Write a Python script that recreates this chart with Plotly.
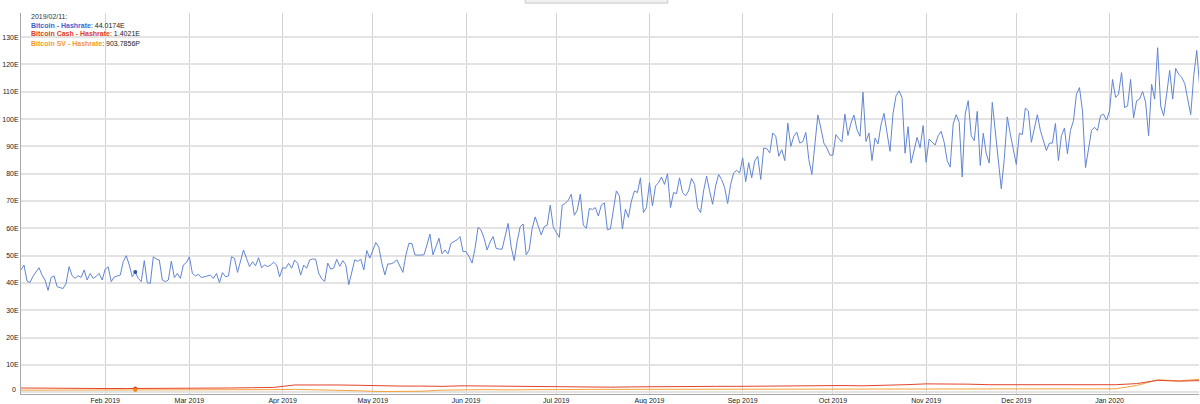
import pandas as pd
import plotly.graph_objects as go

# ---------------- data (hashrate in EH/s, "E") ----------------
btc_start = "2019-01-04"
btc_2019_01 = [44.8, 46.6, 40.7, 40.2, 42.5, 44.1, 45.6, 42.9, 41.1, 37.3,
               42.0, 42.6, 38.7, 38.3, 38.0, 39.9, 46.0, 42.7, 41.7, 42.7,
               42.0, 44.8, 41.1, 43.5, 41.7, 42.5, 43.5, 41.1]
btc_2019_02 = [45.1, 45.9, 40.5, 42.2, 42.5, 42.9, 47.8, 50.0, 46.6, 42.3,
               44.0, 41.7, 40.5, 48.2, 40.1, 39.9, 49.6, 48.8, 48.4, 41.1,
               40.5, 41.1, 48.0, 42.0, 43.5, 41.7, 46.6, 47.5]
btc_2019_03 = [49.6, 43.5, 42.6, 43.2, 42.0, 42.3, 42.5, 42.9, 41.7, 43.5,
               40.1, 43.8, 42.3, 42.6, 49.6, 49.0, 43.9, 48.0, 52.1, 49.0,
               46.0, 47.8, 46.3, 49.3, 45.6, 46.6, 46.0, 46.6, 47.6, 46.6,
               42.3]
btc_2019_04 = [45.6, 45.4, 47.2, 45.4, 48.4, 47.2, 42.9, 46.6, 45.4, 48.4,
               48.8, 48.7, 43.6, 41.5, 40.6, 47.3, 45.1, 45.5, 48.7, 46.1,
               48.2, 46.7, 39.4, 43.6, 48.5, 47.9, 48.7, 44.8, 51.9, 49.1]
btc_2019_05 = [52.1, 54.8, 53.1, 47.3, 43.0, 47.0, 47.0, 47.5, 48.5, 46.3,
               43.9, 50.3, 54.5, 54.5, 50.3, 50.2, 50.2, 50.3, 53.9, 57.9,
               50.3, 53.1, 56.4, 50.7, 52.1, 50.7, 54.5, 55.2, 55.8, 57.0,
               51.5]
btc_2019_06 = [51.5, 49.7, 47.3, 52.7, 60.4, 59.4, 56.4, 52.1, 55.0, 57.0,
               52.7, 52.4, 52.4, 57.6, 61.8, 53.3, 48.2, 55.2, 60.6, 61.6,
               50.3, 52.1, 60.0, 64.2, 60.6, 57.6, 60.6, 61.2, 68.5, 60.6]
btc_2019_07 = [58.5, 56.7, 68.5, 69.1, 70.3, 72.5, 64.8, 66.7, 72.5, 61.2,
               60.0, 67.3, 66.9, 67.6, 64.5, 68.5, 69.3, 59.5, 59.8, 67.0,
               73.7, 71.9, 59.8, 67.0, 64.0, 70.0, 73.7, 73.1, 78.5, 65.8,
               67.6]
btc_2019_08 = [76.7, 68.2, 75.5, 76.7, 78.8, 76.1, 80.0, 67.6, 73.1, 72.7,
               78.5, 73.1, 71.9, 73.7, 78.3, 76.1, 67.6, 65.8, 73.7, 79.1,
               73.7, 68.8, 75.5, 79.7, 77.9, 74.9, 69.1, 76.1, 80.3, 81.2,
               80.3]
btc_2019_09 = [85.8, 77.1, 84.0, 78.5, 84.6, 86.4, 77.9, 89.4, 89.2, 87.6,
               94.9, 93.7, 86.4, 88.8, 84.8, 98.5, 90.0, 93.7, 95.2, 91.2,
               91.8, 95.1, 85.2, 79.7, 89.4, 101.5, 96.7, 91.2, 89.4, 86.8]
btc_2019_10 = [86.8, 94.3, 92.8, 91.6, 101.8, 94.0, 98.5, 101.5, 96.1, 93.7,
               109.8, 91.8, 94.9, 84.8, 93.0, 90.9, 97.9, 102.1, 94.9, 88.2,
               102.1, 108.5, 110.3, 107.8, 87.5, 97.2, 83.9, 89.1, 93.3, 89.5,
               97.6]
btc_2019_11 = [84.2, 92.7, 91.5, 90.5, 93.9, 95.5, 91.5, 84.8, 82.4, 98.2,
               101.6, 98.8, 78.8, 101.8, 106.7, 93.9, 92.1, 102.8, 83.0, 94.8,
               87.3, 83.9, 106.1, 95.8, 86.1, 74.5, 85.5, 100.8, 94.5, 89.1]
btc_2019_12 = [83.4, 94.8, 94.3, 104.0, 103.0, 91.5, 97.0, 101.6, 95.8, 92.1,
               88.5, 91.2, 91.2, 98.4, 84.8, 93.9, 96.7, 87.3, 95.8, 99.4,
               109.1, 111.5, 103.0, 82.2, 88.5, 95.8, 97.0, 95.8, 101.2, 101.8,
               99.6]
btc_2020_01 = [103.0, 114.5, 107.9, 109.1, 117.0, 104.2, 104.8, 114.5, 100.4, 106.7,
               107.3, 110.1, 106.1, 93.9, 112.7, 107.3, 126.1, 104.8, 101.2, 109.1,
               117.8, 107.3, 118.5, 116.4, 115.2, 113.0, 106.7, 101.6, 115.8, 125.1,
               111.5]

# weekly readings for the two small chains
alt_start = "2019-01-04"
bch_weekly = [1.6, 1.5, 1.5, 1.4, 1.4, 1.4, 1.4, 1.5, 1.5, 1.5,
              1.6, 1.7, 1.8, 2.7, 2.8, 2.7, 2.6, 2.4, 2.3, 2.3,
              2.2, 2.4, 2.3, 2.2, 2.1, 2.1, 2.0, 1.9, 1.9, 2.0,
              2.1, 2.0, 2.1, 2.2, 2.2, 2.3, 2.4, 2.4, 2.4, 2.5,
              2.4, 2.5, 2.8, 3.1, 3.1, 3.0, 2.8, 2.8, 2.7, 2.7,
              2.6, 2.7, 2.8, 3.2, 4.4, 4.1, 4.3]
bsv_weekly = [0.8, 0.8, 0.8, 0.9, 0.9, 0.9, 0.9, 0.8, 0.8, 0.8,
              0.8, 0.9, 1.0, 1.1, 1.0, 0.9, 0.6, 0.3, 0.3, 0.4,
              0.8, 1.0, 1.0, 0.9, 1.0, 1.0, 1.1, 1.1, 1.1, 1.1,
              1.2, 1.2, 1.2, 1.2, 1.2, 1.2, 1.2, 1.3, 1.3, 1.2,
              1.2, 1.3, 1.2, 1.2, 1.2, 1.2, 1.1, 1.1, 1.1, 1.2,
              1.2, 1.2, 1.3, 2.5, 4.6, 4.2, 4.8]

# highlighted point (legend readout)
hover_date = "2019-02-11"
hover_label = "2019/02/11:"
hover_btc = 44.0174
hover_bch = 1.4021
hover_bsv = 0.9037856
hover_text = ["44.0174E", "1.4021E", "903.7856P"]

series_names = ["Bitcoin - Hashrate", "Bitcoin Cash - Hashrate", "Bitcoin SV - Hashrate"]
series_colors = ["#6285d2", "#e2432c", "#f7a23a"]
label_colors = ["#3b66d0", "#e03a26", "#f59a2a"]

y_tickvals = [10, 20, 30, 40, 50, 60, 70, 80, 90, 100, 110, 120, 130]
y_ticktext = ["10E", "20E", "30E", "40E", "50E", "60E", "70E", "80E",
              "90E", "100E", "110E", "120E", "130E"]
y_bottom_label = "0"

# ---------------- build ----------------
btc = (btc_2019_01 + btc_2019_02 + btc_2019_03 + btc_2019_04 + btc_2019_05 +
       btc_2019_06 + btc_2019_07 + btc_2019_08 + btc_2019_09 + btc_2019_10 +
       btc_2019_11 + btc_2019_12 + btc_2020_01)
btc_dates = pd.date_range(btc_start, periods=len(btc), freq="D")
alt_dates = pd.date_range(alt_start, periods=len(bch_weekly), freq="7D")

fig = go.Figure()
fig.add_trace(go.Scatter(x=alt_dates, y=bsv_weekly, mode="lines",
                         line=dict(color=series_colors[2], width=1), name=series_names[2]))
fig.add_trace(go.Scatter(x=alt_dates, y=bch_weekly, mode="lines",
                         line=dict(color=series_colors[1], width=1), name=series_names[1]))
fig.add_trace(go.Scatter(x=btc_dates, y=btc, mode="lines",
                         line=dict(color=series_colors[0], width=1), name=series_names[0]))
fig.add_trace(go.Scatter(x=[hover_date] * 3, y=[hover_bch, hover_bsv, hover_btc], mode="markers",
                         marker=dict(size=4, color=["#d8412a", "#f08a1e", "#2f55a8"])))

font_family = "Liberation Sans, Arial, sans-serif"
tick_color = "#222"

# legend readout (top-left)
ann = [dict(xref="paper", yref="paper", x=0.0068, y=0.990, xanchor="left", yanchor="middle",
            text=hover_label, showarrow=False, font=dict(size=7, color="#333", family=font_family))]
rows_y = [0.968, 0.945, 0.921]
for name, col, val, yy in zip(series_names, label_colors, hover_text, rows_y):
    ann.append(dict(xref="paper", yref="paper", x=0.0068, y=yy, xanchor="left", yanchor="middle",
                    text=f"<b><span style='color:{col}'>{name}</span></b>: {val}",
                    showarrow=False, font=dict(size=7, color="#222", family=font_family)))
# bottom "0" label sits a little higher, clear of the x axis
ann.append(dict(xref="paper", yref="y", x=0, y=0, xanchor="right", yanchor="middle",
                xshift=-3, yshift=3, text=y_bottom_label, showarrow=False,
                font=dict(size=7, color=tick_color, family=font_family)))

fig.update_layout(
    width=1200, height=404,
    margin=dict(l=21, r=1, t=13, b=10),
    plot_bgcolor="white", paper_bgcolor="white",
    showlegend=False,
    font=dict(family=font_family, size=7, color="#333"),
    annotations=ann,
    shapes=[dict(type="rect", xref="paper", yref="paper", x0=0.428, x1=0.549, y0=1.026, y1=1.06,
                 fillcolor="#f0f0f0", line=dict(color="#c8c8c8", width=1))],
    xaxis=dict(type="date", range=["2019-01-04", "2020-01-30 18:00"],
               tick0="2019-02-01", dtick="M1", tickformat="%b %Y",
               showgrid=True, gridcolor="#d2d2d2", gridwidth=1,
               showline=True, linecolor="#a8a8a8", linewidth=1,
               ticks="", zeroline=False, automargin=False,
               tickfont=dict(size=7, color=tick_color)),
    yaxis=dict(range=[-0.6, 138.8], tickvals=y_tickvals, ticktext=y_ticktext,
               showgrid=True, gridcolor="#e3e3e3", gridwidth=1.5,
               showline=True, linecolor="#a8a8a8", linewidth=1,
               ticks="", zeroline=True, zerolinecolor="#e3e3e3", zerolinewidth=1.5,
               automargin=False,
               tickfont=dict(size=7, color=tick_color)),
)

fig.write_html(
    "out.html",
    config={"displayModeBar": False},
    post_script="document.body.style.margin='0';document.body.style.padding='0';"
                "document.body.style.overflow='hidden';",
)
